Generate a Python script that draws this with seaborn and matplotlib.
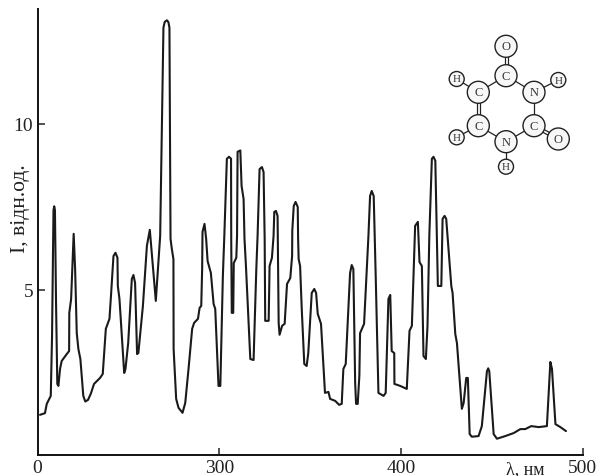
import matplotlib
matplotlib.use("Agg")
import matplotlib.pyplot as plt
import pandas as pd
import seaborn as sns
from matplotlib.patches import Circle

wavelength = [201.4, 204.1, 205.1, 207.3, 208.0, 208.8, 209.2, 209.6, 210.2, 210.9, 211.5, 212.4, 213.3, 216.1, 217.4, 217.5,
              218.5, 219.4, 219.9, 220.7, 221.6, 222.5, 223.6, 225.2, 226.3, 227.8, 229.3, 231.1, 234.4, 235.9, 237.6,
              239.6, 240.5, 241.8, 242.9, 244.0, 244.2, 245.1, 247.7, 248.4, 249.9, 251.9, 252.8, 253.7, 254.8, 255.5,
              258.0, 260.2, 261.8, 265.1, 267.5, 269.3, 270.0, 271.2, 272.0, 272.6, 273.2, 273.9, 274.8, 274.9, 276.3, 277.6, 279.8,
              281.3, 283.1, 285.1, 286.2, 288.3, 289.2, 290.1, 290.6, 290.8, 291.9, 292.8, 293.6, 295.4, 296.9, 297.8,
              299.6, 300.6, 302.0, 302.8, 304.2, 305.4, 306.5, 306.6, 306.9, 307.7, 308.0, 309.4, 309.8, 310.1, 311.6,
              312.3, 313.4, 313.9, 314.7, 317.1, 318.9, 320.4, 321.1, 322.2, 323.5, 324.4, 325.0, 325.3, 327.2, 327.7,
              329.0, 329.9, 330.3, 331.2, 332.1, 332.7, 333.2, 334.6, 336.0, 337.3, 339.1, 340.1, 340.2, 341.0, 342.0,
              343.2, 343.4, 343.7, 344.5, 345.4, 346.8, 348.1, 349.0, 350.9, 352.3, 353.3, 354.2, 356.0, 356.8, 358.2,
              360.1, 361.0, 363.8, 366.0, 367.4, 368.3, 369.6, 372.0, 372.9, 373.8, 374.8, 375.3, 376.2, 377.1, 377.5,
              379.7, 382.1, 383.0, 383.9, 385.0, 386.1, 387.6, 390.4, 391.6, 393.1, 394.1, 394.9, 396.3, 396.4, 399.6,
              403.2, 404.7, 406.0, 407.8, 409.3, 410.2, 411.5, 412.4, 413.7, 414.6, 415.6, 417.0, 417.9, 418.9, 420.3,
              422.2, 422.9, 424.0, 424.9, 427.7, 428.4, 429.9, 430.8, 433.5, 434.5, 435.9, 436.8, 437.8, 439.0, 442.7,
              444.5, 447.3, 448.0, 448.6, 451.0, 452.8, 457.4, 462.0, 465.7, 468.4, 471.7, 475.8, 480.3, 482.2, 483.1, 485.0,
              487.7, 490.8]
intensity = [1.24, 1.29, 1.57, 1.81, 3.61, 7.40, 7.52, 7.40, 4.61, 2.17, 2.11, 2.62, 2.86, 3.07, 3.16, 4.31,
             4.73, 6.02, 6.69, 5.63, 3.70, 3.22, 2.92, 1.81, 1.64, 1.69, 1.87, 2.17, 2.35, 2.47, 3.83,
             4.13, 4.88, 6.02, 6.12, 5.97, 5.12, 4.73, 2.50, 2.62, 3.40, 5.33, 5.45, 5.21, 3.07, 3.10,
             4.52, 6.33, 6.81, 4.67, 6.63, 12.90, 13.07, 13.12, 13.07, 12.90, 6.54, 6.24, 5.93, 3.22, 1.72, 1.45, 1.30,
             1.60, 2.62, 3.83, 4.01, 4.13, 4.46, 4.52, 5.63, 6.75, 6.99, 6.54, 5.87, 5.51, 4.58, 4.43,
             2.11, 2.11, 5.42, 6.63, 8.95, 9.01, 8.95, 6.54, 4.31, 4.31, 5.81, 5.97, 6.63, 9.16, 9.20,
             8.13, 7.74, 6.54, 5.72, 2.92, 2.89, 5.63, 6.63, 8.64, 8.70, 8.55, 6.54, 4.07, 4.07, 5.72,
             5.97, 6.63, 7.35, 7.38, 7.23, 4.01, 3.65, 3.92, 3.98, 5.18, 5.36, 6.02, 6.78, 7.53, 7.65,
             7.50, 6.54, 5.93, 5.72, 4.43, 2.77, 2.71, 3.10, 4.91, 5.03, 4.91, 4.28, 3.98, 3.22, 1.90,
             1.93, 1.72, 1.66, 1.54, 1.57, 2.62, 2.77, 5.51, 5.75, 5.63, 2.20, 1.57, 1.57, 2.41, 3.70,
             3.98, 6.63, 7.83, 7.98, 7.83, 5.42, 1.90, 1.81, 1.90, 4.73, 4.85, 3.16, 3.10, 2.17, 2.11,
             2.02, 3.77, 3.92, 6.93, 7.05, 5.84, 5.72, 3.01, 2.92, 3.92, 6.63, 8.95, 9.01, 8.89, 5.12,
             5.12, 7.14, 7.23, 7.14, 5.12, 4.91, 3.67, 3.40, 1.42, 1.60, 2.35, 2.35, 0.66, 0.58, 0.60,
             0.90, 2.55, 2.64, 2.55, 0.66, 0.52, 0.60, 0.69, 0.81, 0.81, 0.90, 0.87, 0.90, 2.83, 2.62, 0.96,
             0.87, 0.75]

x_ticks = [200, 300, 400, 500]
x_tick_labels = ["0", "300", "400", "500"]
y_ticks = [5, 10]

# uracil molecule, positions in figure pixels
atom_names = ["O", "C", "H", "C", "N", "H", "C", "C", "H", "N", "O", "H"]
atom_x = [506, 506, 456.7, 478.3, 534, 558.3, 478.3, 534, 456.7, 506, 558.3, 506]
atom_y = [47.3, 76.7, 80, 93.3, 93.3, 81, 126.7, 126.7, 138.3, 142.7, 140, 167.7]
single_bonds = [(1, 3), (1, 4), (2, 3), (4, 5), (4, 7), (6, 8), (6, 9), (7, 9), (9, 11)]
double_bonds = [(0, 1), (3, 6), (7, 10)]

sns.set_theme(style="ticks")
plt.rcParams["font.family"] = ["Liberation Serif", "DejaVu Serif"]

df = pd.DataFrame({"wavelength": wavelength, "intensity": intensity})

fig = plt.figure(figsize=(5.98, 4.77), dpi=100)
ax = fig.add_axes([37.5 / 598, 21.5 / 477, 545.2 / 598, 445.5 / 477])
sns.lineplot(data=df, x="wavelength", y="intensity", estimator=None, color="#1a1a1a", linewidth=1.5,
             solid_joinstyle="round", ax=ax)
ax.set_xlim(200, 500)
ax.set_ylim(0.045, 13.46)
ax.set_xticks(x_ticks[1:] + [200])
ax.set_xticklabels(x_tick_labels[1:] + [x_tick_labels[0]])
ax.set_yticks(y_ticks)
ax.tick_params(axis="both", direction="in", length=5, width=1.1, labelsize=14, colors="#222222", pad=3)
ax.xaxis.get_major_ticks()[-1].tick1line.set_visible(False)
for side in ["top", "right"]:
    ax.spines[side].set_visible(False)
for side in ["left", "bottom"]:
    ax.spines[side].set_linewidth(1.4)
    ax.spines[side].set_color("#111111")
ax.set_xlabel("λ, нм", fontsize=13, color="#222222")
ax.xaxis.set_label_coords(0.894, -0.012)
ax.set_ylabel("I, відн.од.", fontsize=15.5, color="#222222")
ax.yaxis.set_label_coords(-0.014, 0.553)

# molecule overlay
mol = fig.add_axes([0, 0, 1, 1], facecolor="none")
mol.set_xlim(0, 598)
mol.set_ylim(477, 0)
mol.axis("off")
for a, b in single_bonds:
    mol.plot([atom_x[a], atom_x[b]], [atom_y[a], atom_y[b]], color="#222222", lw=0.9, zorder=1)
for a, b in double_bonds:
    dx = atom_x[b] - atom_x[a]
    dy = atom_y[b] - atom_y[a]
    size = (dx ** 2 + dy ** 2) ** 0.5
    ox = -dy / size * 1.5
    oy = dx / size * 1.5
    for s in [-1, 1]:
        mol.plot([atom_x[a] + s * ox, atom_x[b] + s * ox], [atom_y[a] + s * oy, atom_y[b] + s * oy],
                 color="#222222", lw=0.9, zorder=1)
for name, x, y in zip(atom_names, atom_x, atom_y):
    r = 7.5 if name == "H" else 11
    mol.add_patch(Circle((x, y), r, facecolor="#f7f7f7", edgecolor="#222222", lw=1.0, zorder=2))
    mol.text(x, y, name, ha="center", va="center", fontsize=8 if name == "H" else 9, color="#333333", zorder=3)

fig.savefig("out.png", dpi=100)
